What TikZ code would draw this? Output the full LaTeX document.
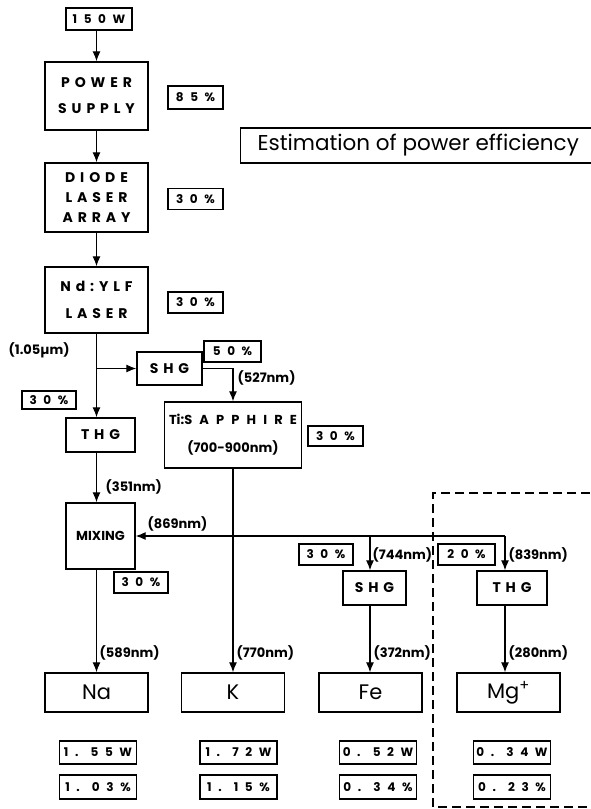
\documentclass[tikz,border=0pt]{standalone}
\usepackage{fontspec}
\setmainfont{Poppins}
\newfontfamily\wide[LetterSpace=35]{Poppins}% gesperrte Großbuchstaben
\newfontfamily\wider[LetterSpace=55]{Poppins}
\usetikzlibrary{arrows.meta}
\begin{document}
\begin{tikzpicture}[x=1pt,y=-1pt,line width=1.4pt,
	box/.style={draw,inner sep=0pt,align=center},
	eff/.style={box,minimum height=21pt,font=\wider\bfseries\fontsize{12}{14}\selectfont},
	caps/.style={font=\wide\bfseries\fontsize{14}{#1}\selectfont},
	caps/.default=26,
	elem/.style={box,minimum width=103pt,minimum height=39pt,font=\fontsize{21}{24}\selectfont},
	wl/.style={anchor=west,inner sep=0pt,font=\bfseries\fontsize{13}{15}\selectfont},
	flow/.style={line width=1.1pt,-{Latex[length=10pt,width=8pt]}}]
	\useasboundingbox (0,0) rectangle (590,809);
	% Hauptkette
	\node[eff,minimum width=66pt,minimum height=22pt] (in) at (99,19) {150W};
	\node[box,caps,minimum width=103pt,minimum height=68pt] (ps) at (96.5,96) {POWER\\SUPPLY};
	\node[box,caps=20,minimum width=103pt,minimum height=69pt] (dla) at (96.5,197.5) {DIODE\\LASER\\ARRAY};
	\node[box,caps=27,minimum width=103pt,minimum height=66pt] (ylf) at (96.5,300) {Nd:YLF\\LASER};
	\node[eff,minimum width=55pt,minimum height=23pt] (e85) at (195.5,97.5) {85\%};
	\node[eff,minimum width=55pt] (e30a) at (195.5,199) {30\%};
	\node[eff,minimum width=55pt] (e30b) at (195.5,302.5) {30\%};
	\node[box,minimum width=355pt,minimum height=35pt,anchor=west,
		font=\fontsize{21.5}{26}\selectfont] (title) at (240,145.5) {Estimation of power efficiency};
	% Frequenzwandlung
	\node[wl] (l105) at (8,350) {(1.05µm)};
	\node[box,caps,minimum width=65pt,minimum height=33pt] (shg1) at (169.5,368.5) {SHG};
	\node[eff,minimum width=57pt] (e50) at (232.5,351.5) {50\%};
	\node[wl] (l527) at (237,378) {(527nm)};
	\node[eff,minimum width=54pt,minimum height=18pt] (e30c) at (49,400) {30\%};
	\node[box,caps,minimum width=69pt,minimum height=34pt] (thg1) at (100.5,435) {THG};
	\node[box,minimum width=137pt,minimum height=66pt,font=\bfseries\fontsize{13}{28}\selectfont] (tisa) at (233,435)
		{Ti:{\wider SAPPHIRE}\\(700-900nm)};
	\node[eff,minimum width=55pt,minimum height=20pt] (e30d) at (335.5,436) {30\%};
	\node[wl] (l351) at (105,487) {(351nm)};
	\node[box,minimum width=69pt,minimum height=66pt,font=\bfseries\fontsize{13}{15}\selectfont] (mix) at (100.5,536) {MIXING};
	\node[eff,minimum width=54pt] (e30e) at (141,582.5) {30\%};
	\node[wl] (l869) at (147,524) {(869nm)};
	\coordinate (tapfe) at (370,536);
	\coordinate (tapmg) at (505,536);
	\node[eff,minimum width=54pt] (e30f) at (326,554.5) {30\%};
	\node[eff,minimum width=57pt] (e20) at (466.5,554.5) {20\%};
	\node[wl] (l744) at (372,555) {(744nm)};
	\node[wl] (l839) at (508,555) {(839nm)};
	\node[box,caps,minimum width=63pt,minimum height=34pt] (shg2) at (374.5,588) {SHG};
	\node[box,caps,minimum width=70pt,minimum height=34pt] (thg2) at (512,588) {THG};
	% Elemente
	\node[elem] (na) at (96.5,692.5) {Na};
	\node[elem] (k) at (233,692.5) {K};
	\node[elem] (fe) at (370.5,692.5) {Fe};
	\node[elem] (mg) at (508.5,692.5) {Mg\textsuperscript{+}};
	\node[wl] (l589) at (99,653) {(589nm)};
	\node[wl] (l770) at (236,653) {(770nm)};
	\node[wl] (l372) at (373,653) {(372nm)};
	\node[wl] (l280) at (508,653) {(280nm)};
	\foreach \n/\x/\w/\p in {na/98/1. 55W/1. 03\%,k/238.5/1. 72W/1. 15\%,fe/378/0. 52W/0. 34\%,mg/512/0. 34W/0. 23\%}{
		\node[eff,minimum width=77pt,minimum height=23pt] (w\n) at (\x,752.5) {\w};
		\node[eff,minimum width=77pt,minimum height=24pt] (p\n) at (\x,787) {\p};
	}
	% Pfeile
	\draw[flow] (ps.north |- in.south) -- (ps.north);
	\draw[flow] (ps.south) -- (dla.north);
	\draw[flow] (dla.south) -- (ylf.north);
	\draw[flow] (ylf.south) -- (ylf.south |- thg1.north);
	\draw[flow] (ylf.south |- shg1.west) -- (shg1.west);
	\draw[flow] (shg1.east) -| (tisa.north);
	\draw[flow] (ylf.south |- thg1.south) -- (ylf.south |- mix.north);
	\draw[flow] (ylf.south |- mix.south) -- (na.north);
	\draw[flow] (tisa.south) -- (k.north);
	\draw[flow] (tapmg) -- (mix.east);
	\draw[flow] (tapfe) -- (tapfe |- shg2.north);
	\draw[flow] (tapmg) -- (tapmg |- thg2.north);
	\draw[flow] (tapfe |- shg2.south) -- (tapfe |- fe.north);
	\draw[flow] (tapmg |- thg2.south) -- (tapmg |- mg.north);
	\draw[dash pattern=on 9pt off 5pt] (590,493) -- (433,493) -- (433,807) -- (590,807);
\end{tikzpicture}
\end{document}
